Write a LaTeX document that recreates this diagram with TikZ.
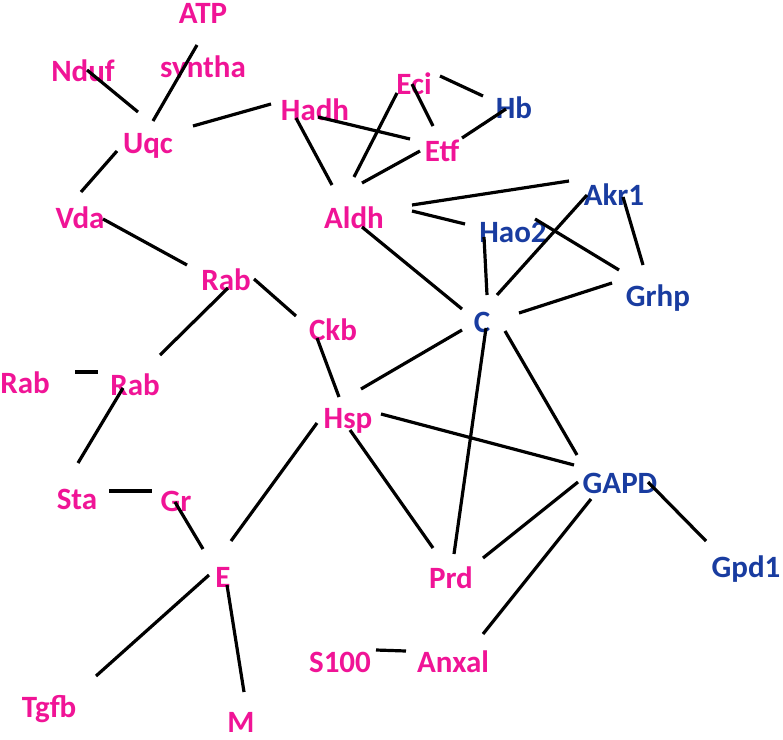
\documentclass[tikz,border=0pt]{standalone}
\usepackage{fontspec}
\setmainfont{Carlito}
\definecolor{gpink}{RGB}{240,20,150}
\definecolor{gblue}{RGB}{25,60,160}
\begin{document}
\begin{tikzpicture}[x=1pt,y=-1pt,
  lbl/.style={anchor=base,inner sep=0pt,font=\fontsize{31}{36}\selectfont\bfseries},
  pk/.style={lbl,text=gpink},
  bl/.style={lbl,text=gblue},
  link/.style={draw=black,line width=3.2pt}]
\useasboundingbox (0,0) rectangle (783,739);
% labels
\node[pk] (atp) at (203,23) {ATP};
\begin{scope}
\clip (150,40) rectangle (260,77);
\node[pk] (syn) at (203,77) {syntha};
\end{scope}
\node[pk] (nduf) at (83,81) {Nduf};
\node[pk] (uqc) at (148,153) {Uqc};
\node[pk] (hadh) at (315,120) {Hadh};
\node[pk] (eci) at (414,94) {Eci};
\node[bl] (hb) at (514,118) {Hb};
\node[pk] (etf) at (442,161) {Etf};
\node[pk] (vda) at (80,228) {Vda};
\node[pk] (aldh) at (354,228) {Aldh};
\node[bl] (akr) at (614,205) {Akr1};
\node[bl] (hao) at (513,242) {Hao2};
\node[bl] (grhp) at (658,306) {Grhp};
\node[bl] (c) at (482,332) {C};
\node[pk] (rabt) at (226,290) {Rab};
\node[pk] (ckb) at (333,340) {Ckb};
\node[pk] (rabl) at (25,393) {Rab};
\node[pk] (rabm) at (135,395) {Rab};
\node[pk] (hsp) at (348,428) {Hsp};
\node[bl] (gapd) at (620,493) {GAPD};
\node[pk] (sta) at (77,509) {Sta};
\node[pk] (gr) at (176,511) {Gr};
\node[pk] (e) at (223,587) {E};
\node[pk] (prd) at (451,588) {Prd};
\node[bl] (gpd) at (746,577) {Gpd1};
\node[pk] (s100) at (340,672) {S100};
\node[pk] (anx) at (453,672) {Anxal};
\node[pk] (tgfb) at (49,717) {Tgfb};
\node[pk] (m) at (241,732) {M};
% connectors
\draw[link] (87,70) coordinate (nduf-u) -- (138,112) coordinate (uqc-n);
\draw[link] (197,45) coordinate (atp-u) -- (153,121) coordinate (uqc-a);
\draw[link] (193,126) coordinate (uqc-h) -- (271,104) coordinate (hadh-u);
\draw[link] (117,151) coordinate (uqc-v) -- (81,192) coordinate (vda-u);
\draw[link] (296,118) coordinate (hadh-a) -- (332,185) coordinate (aldh-h);
\draw[link] (318,117) coordinate (hadh-e) -- (410,139) coordinate (etf-h);
\draw[link] (354,177) coordinate (aldh-ec) -- (397,93) coordinate (eci-a);
\draw[link] (362,183) coordinate (aldh-et) -- (420,151) coordinate (etf-a);
\draw[link] (412,84) coordinate (eci-e) -- (433,126) coordinate (etf-ec);
\draw[link] (440,76) coordinate (eci-h) -- (483,96) coordinate (hb-ec);
\draw[link] (462,138) coordinate (etf-hb) -- (506,109) coordinate (hb-et);
\draw[link] (412,205) coordinate (aldh-ak) -- (569,181) coordinate (akr-al);
\draw[link] (412,211) coordinate (aldh-ha) -- (465,224) coordinate (hao-al);
\draw[link] (362,227) coordinate (aldh-c) -- (462,309) coordinate (c-al);
\draw[link] (484,237) coordinate (hao-c) -- (487,295) coordinate (c-ha);
\draw[link] (587,195) coordinate (akr-c) -- (497,295) coordinate (c-ak);
\draw[link] (535,219) coordinate (hao-g) -- (619,270) coordinate (grhp-ha);
\draw[link] (623,197) coordinate (akr-g) -- (643,265) coordinate (grhp-ak);
\draw[link] (519,313) coordinate (c-g) -- (612,283) coordinate (grhp-c);
\draw[link] (462,330) coordinate (c-hs) -- (361,389) coordinate (hsp-c);
\draw[link] (486,328) coordinate (c-p) -- (454,554) coordinate (prd-c);
\draw[link] (505,331) coordinate (c-ga) -- (577,455) coordinate (gapd-c);
\draw[link] (103,219) coordinate (vda-r) -- (187,265) coordinate (rabt-v);
\draw[link] (254,279) coordinate (rabt-c) -- (296,316) coordinate (ckb-r);
\draw[link] (228,288) coordinate (rabt-m) -- (160,355) coordinate (rabm-t);
\draw[link] (75,372) coordinate (rabl-m) -- (98,372) coordinate (rabm-l);
\draw[link] (123,388) coordinate (rabm-s) -- (78,463) coordinate (sta-r);
\draw[link] (317,338) coordinate (ckb-h) -- (339,397) coordinate (hsp-ck);
\draw[link] (317,423) coordinate (hsp-e) -- (231,541) coordinate (e-hs);
\draw[link] (350,430) coordinate (hsp-p) -- (433,548) coordinate (prd-hs);
\draw[link] (381,414) coordinate (hsp-g) -- (574,465) coordinate (gapd-hs);
\draw[link] (109,491) coordinate (sta-g) -- (152,491) coordinate (gr-s);
\draw[link] (175,502) coordinate (gr-e) -- (203,549) coordinate (e-gr);
\draw[link] (209,575) coordinate (e-t) -- (96,676) coordinate (tgfb-e);
\draw[link] (227,585) coordinate (e-m) -- (244,692) coordinate (m-e);
\draw[link] (578,482) coordinate (gapd-p) -- (483,558) coordinate (prd-g);
\draw[link] (591,499) coordinate (gapd-an) -- (483,634) coordinate (anx-g);
\draw[link] (648,482) coordinate (gapd-gp) -- (706,541) coordinate (gpd-g);
\draw[link] (376,650) coordinate (s100-a) -- (406,651) coordinate (anx-s);
\end{tikzpicture}
\end{document}
